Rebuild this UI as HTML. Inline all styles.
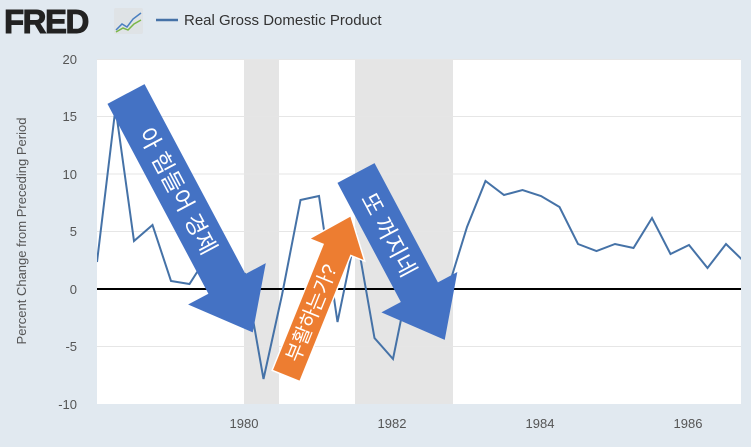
<!DOCTYPE html>
<html><head><meta charset="utf-8"><style>
body{margin:0;width:751px;height:447px;background:#e1e9f0;overflow:hidden;font-family:"Liberation Sans","Noto Sans CJK KR",sans-serif}
</style></head><body>
<svg width="751" height="447" xmlns="http://www.w3.org/2000/svg" style="position:absolute;left:0;top:0">
<text x="4" y="33" font-family="Liberation Sans" font-weight="bold" font-size="33" fill="#222" letter-spacing="-1.5" stroke="#222" stroke-width="1">FRED</text>
<rect x="114" y="8" width="29" height="26" fill="#dfe3e6" rx="2"/>
<polyline points="116,30 122,24 127,27 133,19 141,13" fill="none" stroke="#4a7fc0" stroke-width="1.5"/>
<polyline points="116,32 123,28 128,30 134,24 141,20" fill="none" stroke="#7ab648" stroke-width="1.5"/>
<line x1="156" y1="20" x2="178" y2="20" stroke="#4572a7" stroke-width="2.5"/>
<text x="184" y="25" font-size="15" fill="#333">Real Gross Domestic Product</text>
<rect x="97" y="59" width="644" height="345" fill="#fff"/>
<rect x="244" y="59" width="35" height="345" fill="#e5e5e5"/>
<rect x="355" y="59" width="98" height="345" fill="#e5e5e5"/>
<g stroke="#e6e6e6" stroke-width="1">
<line x1="97" y1="59.5" x2="741" y2="59.5"/><line x1="97" y1="116.5" x2="741" y2="116.5"/>
<line x1="97" y1="174" x2="741" y2="174"/><line x1="97" y1="231.5" x2="741" y2="231.5"/>
<line x1="97" y1="346.5" x2="741" y2="346.5"/>
</g>
<line x1="97" y1="289" x2="741" y2="289" stroke="#000" stroke-width="2"/>
<g font-size="13" fill="#555" text-anchor="end">
<text x="77" y="64">20</text><text x="77" y="121">15</text><text x="77" y="179">10</text>
<text x="77" y="236">5</text><text x="77" y="294">0</text><text x="77" y="351">-5</text><text x="77" y="409">-10</text>
</g>
<g font-size="13" fill="#555" text-anchor="middle">
<text x="244" y="428">1980</text><text x="392" y="428">1982</text><text x="540" y="428">1984</text><text x="688" y="428">1986</text>
</g>
<text transform="translate(26,231) rotate(-90)" font-size="13" fill="#555" text-anchor="middle">Percent Change from Preceding Period</text>
<svg x="97" y="59" width="644" height="345" overflow="hidden">
<polyline fill="none" stroke="#4572a7" stroke-width="2" transform="translate(-97,-59)" points="97,262 115.5,108 134,241 152.5,225 171,281 189.5,284 208,255 226.5,278 245,274 263.5,379 282,295 300.5,200 319,196 337.5,322 356,233 374.5,338 393,359 411.5,268 430,306 448.5,287 467,227 485.5,181 504,195 522.5,190 541,196 559.5,207 578,244 596.5,251 615,244 633.5,248 652,218 670.5,254 689,245 707.5,268 726,244 744.5,262"/>
</svg>
<g transform="translate(126,94) rotate(62)">
<polygon points="0,-21 215,-21 215,-44 270,0 215,44 215,21 0,21" fill="#4472c4"/>
<text x="110" y="8" font-size="23" fill="#fff" text-anchor="middle">아 힘들어 경제</text>
</g>
<g transform="translate(356,173) rotate(62)">
<polygon points="0,-21 135,-21 135,-43 189,0 135,43 135,21 0,21" fill="#4472c4"/>
<text x="70" y="8" font-size="23" fill="#fff" text-anchor="middle">또 꺼지네</text>
</g>
<g transform="translate(286,376) rotate(-68)">
<polygon points="0,-15 136,-15 136,-30 173,0 136,30 136,15 0,15" fill="#ed7d31" stroke="#fff" stroke-width="1.5"/>
<text x="68" y="7" font-size="20" fill="#fff" text-anchor="middle">부활하는가?</text>
</g>
</svg>
</body></html>
